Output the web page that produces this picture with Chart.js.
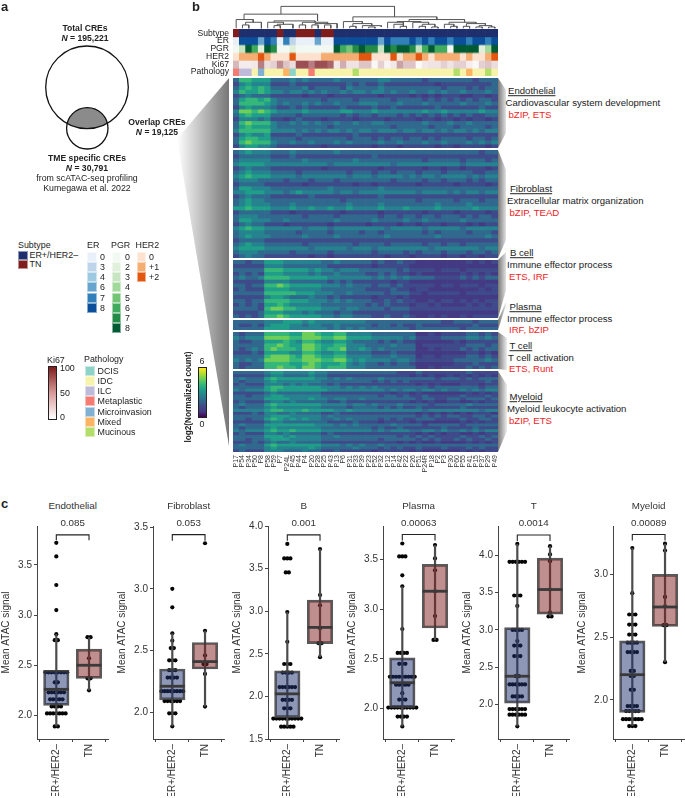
<!DOCTYPE html>
<html>
<head>
<meta charset="utf-8">
<title>Overlap CREs</title>
<script src="https://cdn.jsdelivr.net/npm/chart.js@4"></script>
<style>
  html, body { margin: 0; padding: 0; background: #fff; }
  #page { position: relative; width: 685px; height: 798px; overflow: hidden; font-family: "Liberation Sans", Arial, sans-serif; color: #222; }
  #page canvas { position: absolute; }
  #page canvas.heat { filter: blur(0.45px); }
  .t { position: absolute; white-space: nowrap; line-height: 1; }
  .sw { position: absolute; box-sizing: border-box; border: 1px solid rgba(255,255,255,.5); }
  .wedge { position: absolute; }
</style>
</head>
<body>
<div id="page"></div>
<script>
// ---- panel c values, one list per group
const endoEr = [3.72,3.585,3.30,3.05,2.81,2.75,2.75,2.43,2.43,2.43,2.43,2.43,2.43,2.43,2.43,2.33,2.33,2.23,2.23,2.23,2.23,2.23,2.23,2.16,2.16,2.16,2.16,2.16,2.09,2.09,2.09,2.09,2.02,2.02,2.02,2.02,2.02,2.02,2.02,1.89,1.89]
const endoTn = [2.78,2.78,2.57,2.37,2.37,2.25]
const endoErBox = [1.89,2.10,2.26,2.45,2.81]
const endoTnBox = [2.25,2.37,2.50,2.66,2.78]

const fibroEr = [3.00,2.85,2.64,2.58,2.52,2.52,2.42,2.42,2.42,2.34,2.34,2.34,2.28,2.28,2.28,2.28,2.17,2.17,2.17,2.17,2.17,2.17,2.17,2.17,2.09,2.09,2.09,2.09,2.09,2.09,1.99,1.99,1.99,1.885]
const fibroTn = [3.37,2.66,2.46,2.39,2.39,2.31,2.045]
const fibroErBox = [1.885,2.10,2.21,2.35,2.64]
const fibroTnBox = [2.045,2.35,2.41,2.565,2.66]

const bEr = [3.79,3.62,3.62,3.62,3.455,3.455,2.99,2.64,2.38,2.38,2.38,2.28,2.28,2.28,2.28,2.11,2.11,2.11,2.11,2.11,2.11,1.96,1.96,1.96,1.96,1.86,1.86,1.86,1.74,1.74,1.74,1.74,1.74,1.74,1.74,1.74,1.74,1.74,1.645,1.645,1.645,1.645,1.645]
const bTn = [3.73,3.19,3.07,2.80,2.625,2.625,2.46]
const bErBox = [1.645,1.75,2.03,2.30,2.99]
const bTnBox = [2.46,2.62,2.81,3.13,3.73]

const plasmaEr = [3.66,3.53,3.53,3.53,3.34,3.23,2.80,2.56,2.56,2.56,2.56,2.45,2.45,2.45,2.32,2.32,2.32,2.32,2.32,2.32,2.32,2.32,2.32,2.24,2.24,2.24,2.24,2.24,2.155,2.09,2.09,2.09,2.01,2.01,2.01,2.01,2.01,2.01,2.01,2.01,2.01,2.01,1.92,1.92,1.92,1.92,1.82]
const plasmaTn = [3.645,3.51,3.39,3.18,2.93,2.69,2.69]
const plasmaErBox = [1.82,2.01,2.26,2.51,3.23]
const plasmaTnBox = [2.69,2.81,3.18,3.45,3.645]

const tEr = [4.15,3.91,3.91,3.91,3.91,3.91,3.91,3.46,3.46,3.46,3.32,3.00,3.00,3.00,3.00,2.85,2.79,2.79,2.79,2.65,2.65,2.65,2.38,2.38,2.27,2.27,2.27,2.27,2.27,2.27,2.11,2.11,2.11,2.11,1.94,1.94,1.94,1.94,1.94,1.94,1.865,1.865,1.865,1.865,1.865,1.865,1.71]
const tTn = [4.12,4.01,3.92,3.54,3.235,3.18,3.18]
const tErBox = [1.71,2.02,2.38,3.03,4.15]
const tTnBox = [3.18,3.21,3.54,3.96,4.12]

const myeEr = [3.21,2.85,2.68,2.68,2.68,2.60,2.60,2.60,2.52,2.52,2.52,2.455,2.455,2.455,2.455,2.38,2.38,2.38,2.38,2.23,2.23,2.19,2.19,2.08,2.08,1.95,1.95,1.95,1.95,1.91,1.91,1.91,1.91,1.91,1.845,1.845,1.845,1.845,1.845,1.845,1.845,1.79,1.79,1.79]
const myeTn = [3.245,3.19,2.82,2.745,2.595,2.595,2.30]
const myeErBox = [1.79,1.90,2.20,2.47,3.21]
const myeTnBox = [2.30,2.585,2.74,3.00,3.245]

const groupLabels = ['ER+/HER2–', 'TN']

// ---- panel b annotation tracks
const patients = ['P17','P54','P34','P50','P8','P58','P59','P7','P24L','P45','P44','P4','P20','P28','P25','P43','P13','P6','P31','P33','P39','P23','P52','P32','P12','P14','P42','P22','P26','P51','P24R','P18','P2','P3','P30','P60','P55','P41','P15','P37','P29','P49']
const subtype = ['TN','ER','ER','ER','ER','ER','ER','TN','ER','ER','TN','TN','TN','ER','TN','TN','ER','ER','ER','ER','ER','ER','ER','ER','ER','ER','ER','ER','ER','ER','ER','ER','ER','ER','ER','ER','ER','ER','ER','ER','ER','ER']
const erScore = [0,8,8,8,6,8,7,0,7,3,0,0,0,6,0,0,8,8,8,8,8,8,8,6,8,7,7,7,8,7,8,7,8,8,7,8,8,7,8,8,7,8]
const pgrScore = [0,3,8,6,2,8,7,0,0,2,0,0,0,0,0,0,8,6,5,7,8,7,7,3,8,7,8,8,7,3,6,8,6,6,0,8,8,8,8,2,4,8]
const her2Score = [0,1,1,1,2,1,0,0,0,2,0,0,0,0,1,1,1,1,1,1,2,2,0,0,0,2,0,1,1,2,1,0,1,1,1,1,0,1,0,0,1,2]
const ki67 = [30,8,8,10,55,15,20,50,25,15,75,75,55,75,75,65,10,35,12,12,25,25,3,20,5,10,40,25,25,2,10,12,12,20,12,20,20,8,3,20,25,15]
const pathology = ['Metaplastic','ILC','ILC','IDC','Microinvasion','IDC','IDC','IDC','Mixed','DCIS','IDC','IDC','Metaplastic','IDC','IDC','IDC','IDC','IDC','IDC','Mucinous','IDC','IDC','IDC','IDC','IDC','IDC','IDC','IDC','IDC','IDC','IDC','IDC','IDC','IDC','IDC','Mucinous','IDC','Mixed','IDC','IDC','Mucinous','IDC']

const trackNames = ['Subtype','ER','PGR','HER2','Ki67','Pathology']
const subtypeColors = { ER: '#1f2f6e', TN: '#7f1d1d' }
const erColors = { 0: '#eaf0f9', 3: '#bdd4e9', 4: '#9ecae1', 6: '#67a5cf', 7: '#3180ba', 8: '#0b4f9b' }
const pgrColors = { 0: '#f2f8f2', 2: '#e0f0db', 3: '#c7e5c0', 4: '#a1d99b', 5: '#74c476', 6: '#41ab5d', 7: '#238b45', 8: '#005a32' }
const her2Colors = { 0: '#fde3cf', 1: '#f6ad72', 2: '#e2560f' }
const pathologyColors = { DCIS: '#8dd3c7', IDC: '#f7f3ab', ILC: '#bebada', Metaplastic: '#f47c72', Microinvasion: '#80b1d3', Mixed: '#fdb462', Mucinous: '#b3de69' }
const viridis = ['#440154','#443983','#3e4a89','#31688e','#26828e','#1f9e89','#35b779','#6ece58','#b5de2b','#fde725']

// ---- dendrogram merges: left col, right col, height, left child height, right child height
const dendroMerges = [
  [7.6,25.6,13,36,44],[1.75,13.4,36,52,56],[19,32.3,44,58,52],
  [0.5,3.2,52,78,60],[2,4.5,60,68,78],[1.5,2.5,68,78,78],
  [6.5,13,56,60,60],[5.5,8,60,78,66],[7,9.5,66,70,78],[6.5,7.5,70,78,78],
  [11,15,60,68,64],[10.5,11.5,68,78,78],[13,16.5,64,68,78],[12.5,13.5,68,78,78],[14.5,15.5,68,78,78],
  [17.5,20.5,58,78,64],[19,22,64,72,70],[18.5,19.5,72,78,78],[20.5,23.5,70,78,74],[21.5,22.5,74,78,78],
  [27.9,36.7,52,58,60],[26,29.75,58,60,60],[24.5,27,60,78,66],[25.5,27,66,78,72],[26.5,27.5,72,78,78],
  [28.5,31,60,78,66],[30,32,66,72,74],[29.5,30.5,72,78,78],[31.5,32.5,74,78,78],
  [34.25,38.5,60,66,64],[33.5,35,66,78,72],[34.5,35.5,72,78,78],[37,40,64,72,70],[36.5,37.5,72,78,78],[39,41,70,74,74],[38.5,39.5,74,78,78],[40.5,41.5,74,78,78]
]

// ---- heatmap, one string per row, digit = colour step of log2(normalized count) 0-6, grouped by 7 columns
const endoRows = [
'3665553 3343433 3343333 3344333 3323333 3332333',
'2454442 2232222 2222323 2232222 2222122 2222223',
'3565653 3333423 3332433 3343333 3333323 3323233',
'4655654 4344343 4334344 3443433 4334343 3433343',
'2343332 2222122 2122222 2212222 1212122 2112212',
'3566564 3333333 2333323 3333233 3323232 3232332',
'3666654 3433434 3343334 4433343 3343333 3433343',
'2454443 2232322 2223222 2322322 2222322 2222322',
'4776765 4444544 4445544 4544444 4454454 4444544',
'3565553 3332333 3332323 3233323 2323232 3232233',
'2444342 2123222 1222212 2221222 2122122 1212212',
'3676664 3343434 3343343 3443333 3343334 3343333',
'3565554 3333333 3233333 3333233 3332333 2333323',
'4666664 4443434 3443434 4344434 4344343 4434344',
'2454452 2223222 2222232 2222222 2222222 2222222',
'3566553 3332333 3333233 3232332 3323233 3323323',
'3676664 3343343 3343433 3343343 3343343 3343434',
'2455443 2222222 1222222 2122212 2222122 1222212']
const fibroRows = [
'3454443 3343333 3343333 3333333 3333333 3333233',
'2333332 2232222 2222222 2322222 2222222 2222222',
'3444443 3333433 3333343 3333333 3323333 3233323',
'4555544 4444444 4344444 4444344 4444444 4344444',
'2343332 2222222 1222222 2212222 2212212 2122212',
'3454443 3332333 3333233 3233233 3233323 3332233',
'4565554 4443444 4444344 4344443 4344344 4434344',
'3444333 3233323 3323333 3333233 3323323 3323233',
'2333322 2222122 2222212 2122222 2122222 1222212',
'3554443 3333333 3433333 3343333 3333333 3333333',
'4455544 4345444 4434434 4444444 4344443 4344344',
'2343332 2222232 2222222 2232222 2222222 2222222',
'3454433 3333333 3332333 3333333 3233333 2333233',
'3454443 3343333 3333433 3343333 3333433 3343333',
'5565554 4454454 4544544 4454445 4444544 4445444',
'2333332 2212222 2221222 2212222 2212222 1222212',
'3444333 3333233 3323333 3323323 3233233 3232332',
'3554443 3433333 3343333 3433334 3343333 3433333',
'2343322 2122222 2122222 1222212 2122212 2212122',
'4565544 4444344 4344444 4443444 4434444 4344444',
'3444433 3332333 3233332 3323333 3323233 3323332',
'3454443 3333433 3343333 3334333 3333433 3333343',
'2333322 2222222 2222222 2222222 2222222 2222222',
'3454433 3333233 3333323 3332333 3323323 3233333',
'4555544 4444434 4444344 4344444 4443444 4444344',
'3444333 3323333 3233333 3233332 3233323 3323323',
'2343322 2222212 2122222 2221222 1222212 2122122']
const bCellRows = [
'3323355 5444444 3343333 3232232 2111111 1121212',
'2222244 4333333 3222222 2122222 1111111 1111111',
'3333366 6555545 4434443 3333323 2222122 2122222',
'2323255 5444434 3343333 2232322 1211111 1212121',
'3433466 6655555 5444444 4343434 3333222 2323233',
'2222244 4433333 3232322 2222122 1111111 1111111',
'3323366 7655555 4443433 3233232 2222122 1222122',
'2322255 5544444 3333333 2222322 1221111 1111212',
'3333366 6665554 4433433 3332333 2212222 2122222',
'2222245 5433343 3232222 2122212 1111111 1111111',
'3323366 6655544 4343433 3223232 2112122 1212122',
'2323255 6544444 3333333 2323222 1221211 1121212',
'3333267 7665555 4443443 3332333 2222222 2222222',
'2222355 5444343 3323322 2222222 1111111 1111111',
'3232366 7655555 4434433 3223223 2112121 1212222']
const plasmaRows = [
'3333344 4555454 4444444 3333333 3333322 3332333',
'3223245 5544344 3343333 3233232 2322222 2223222',
'3333355 5544444 4343434 3333333 2333333 3233333']
const tCellRows = [
'3233366 6655776 5566444 4333333 3112122 2233232',
'4344477 7766777 6677555 5444443 4222233 3344343',
'3223355 5654665 4455433 3323232 2111111 2122222',
'3333366 7655776 5566444 3333433 3122222 2233323',
'3234367 6665776 5667445 4343333 3112122 2323233',
'2223255 5544665 4455333 3222322 2111111 1122121',
'3333367 7765776 5566444 4333433 3122122 2233232',
'4343477 7766777 6677545 4444344 3222222 3333343',
'3223366 6655676 5556434 3323233 2111111 2223222',
'3233366 7665776 5666444 3333333 3112122 2232323']
const myeloidRows = [
'3333345 5444454 4333333 3333322 2322222 2232222',
'2222234 4333343 3222222 2222222 1212112 1212121',
'3433356 5555554 4343433 3343333 3333233 3232333',
'3233345 4444444 3333333 3232323 2222222 2222232',
'2322244 4343433 3232222 2222222 2121211 1222122',
'3333356 6555555 4443434 3433333 3332333 3333233',
'4344456 5555555 5444444 4443434 4344343 3434344',
'2222234 3333333 2222222 2222122 1211111 1121212',
'3323345 5444444 3333333 3323323 2232222 2322232',
'3333355 5544454 4344334 3333333 3233223 3233323',
'2322234 4343333 3223222 2222222 1212112 2112122',
'3433356 5555555 4444344 3433343 3332333 3343333',
'3233345 4444444 3333233 3323232 2322222 2322222',
'4444456 6555655 5544544 4444444 4434444 4444344',
'2223244 3343333 2232222 2222222 2121212 1212221',
'3333345 5544444 3433333 3333333 3232323 3223323',
'3323356 5454544 3343433 3323232 2333222 2322332',
'2222234 4333333 3222232 2212222 1211111 1212122',
'3433355 5555554 4434343 3333433 3323333 3233333',
'3233345 4444444 3333333 3232232 2222232 2223222',
'4344456 5565555 4444444 4343444 3344343 3434344',
'2322244 3433333 2322222 2222222 2121212 2112122',
'3333355 5454444 3343333 3333323 2323222 2322323',
'3323345 5544444 3333333 3323333 3232322 3232232',
'2223234 3343333 2222222 2222212 1211211 1121212',
'3433356 5555555 4443434 3343333 3333333 3333333',
'3333345 4444454 3333343 3323232 2322232 2232322',
'2322244 4333433 2232222 2122222 1211111 1212122']

const vennPoints = [{ x: 87, y: 87.3 }, { x: 87.3, y: 128.3 }]
const vennRadii = [41.3, 20.7]

const page = document.getElementById('page')
Chart.defaults.font.family = '"Liberation Sans", Arial, sans-serif'
Chart.defaults.animation = false
Chart.defaults.layout.autoPadding = false
Chart.defaults.plugins.legend.display = false
Chart.defaults.plugins.tooltip.enabled = false

function makeCanvas(x, y, w, h) {
  const c = document.createElement('canvas')
  c.width = w; c.height = h
  c.style.left = x + 'px'; c.style.top = y + 'px'
  c.style.width = w + 'px'; c.style.height = h + 'px'
  page.appendChild(c)
  return c
}

function text(str, x, y, o = {}) {
  const d = document.createElement('div')
  d.className = 't'
  d.innerHTML = str
  d.style.left = x + 'px'; d.style.top = y + 'px'
  d.style.fontSize = (o.size || 9.6) + 'px'
  if (o.bold) d.style.fontWeight = 'bold'
  if (o.color) d.style.color = o.color
  if (o.under) d.style.textDecoration = 'underline'
  const ax = o.align === 'center' ? '-50%' : o.align === 'right' ? '-100%' : '0'
  d.style.transform = `translate(${ax},-50%)` + (o.rotate ? ` rotate(${o.rotate}deg)` : '')
  page.appendChild(d)
}

function swatch(color, x, y, w, h) {
  const d = document.createElement('div')
  d.className = 'sw'
  d.style.cssText = `left:${x}px;top:${y}px;width:${w}px;height:${h}px;background:${color}`
  page.appendChild(d)
}

function wedge(x, y, w, h, points, grad) {
  const d = document.createElement('div')
  d.className = 'wedge'
  d.style.cssText = `left:${x}px;top:${y}px;width:${w}px;height:${h}px;background:${grad};clip-path:polygon(${points})`
  page.appendChild(d)
}

// ---- grey connectors
wedge(177, 78, 52, 374, '0 61px, 52px 0, 52px 368px', 'linear-gradient(to right,#fff,#777)')
const wedgeGrad = 'linear-gradient(to right,#777,#eee)'
wedge(498, 78, 9, 70, '0 0, 8px 12px, 8px 55px, 0 70px', wedgeGrad)
wedge(498, 150, 9, 108, '0 0, 8px 20px, 8px 90px, 0 108px', wedgeGrad)
wedge(498, 252, 9, 66, '0 8px, 8px 0, 8px 38px, 0 66px', wedgeGrad)
wedge(498, 302, 9, 28, '0 18px, 8px 0, 8px 3px, 0 28px', wedgeGrad)
wedge(498, 332, 9, 38, '0 0, 9px 6px, 9px 38px, 0 37px', wedgeGrad)
wedge(498, 371, 9, 81, '0 0, 9px 14px, 9px 60px, 0 81px', wedgeGrad)

// ---- panel a
const lensPlugin = {
  id: 'lens',
  beforeDatasetsDraw(chart) {
    const { ctx, scales: { x, y } } = chart
    const [a, b] = vennPoints
    ctx.save()
    ctx.beginPath()
    ctx.arc(x.getPixelForValue(a.x), y.getPixelForValue(a.y), vennRadii[0], 0, Math.PI * 2)
    ctx.clip()
    ctx.beginPath()
    ctx.arc(x.getPixelForValue(b.x), y.getPixelForValue(b.y), vennRadii[1], 0, Math.PI * 2)
    ctx.fillStyle = '#8b8b8b'
    ctx.fill()
    ctx.restore()
  }
}
new Chart(makeCanvas(0, 0, 176, 176), {
  type: 'scatter',
  plugins: [lensPlugin],
  data: { datasets: [{ data: vennPoints, pointRadius: vennRadii, pointBackgroundColor: 'transparent', pointBorderColor: '#111', pointBorderWidth: 1.3, clip: false }] },
  options: {
    responsive: false,
    layout: { padding: 0 },
    scales: {
      x: { display: false, min: 0, max: 176 },
      y: { display: false, min: 0, max: 176, reverse: true }
    }
  }
})

text('a', 1, 6, { size: 13, bold: true })
text('b', 192, 6, { size: 13, bold: true })
text('c', 1, 503, { size: 13, bold: true })

text('Total CREs', 85, 28, { size: 8.6, bold: true, align: 'center' })
text('<i>N</i> = 195,221', 85, 38, { size: 8.6, bold: true, align: 'center' })
text('Overlap CREs', 157, 122, { size: 8.6, bold: true, align: 'center' })
text('<i>N</i> = 19,125', 157, 132, { size: 8.6, bold: true, align: 'center' })
text('TME specific CREs', 87, 157.5, { size: 8.6, bold: true, align: 'center' })
text('<i>N</i> = 30,791', 87, 168, { size: 8.6, bold: true, align: 'center' })
text('from scATAC-seq profiling', 87, 178, { size: 8.8, align: 'center' })
text('Kumegawa et al. 2022', 87, 188, { size: 8.8, align: 'center' })

// ---- legends
const legendSize = 8.9
text('Subtype', 18, 244.5, { size: legendSize })
swatch(subtypeColors.ER, 18, 251, 9.5, 9)
swatch(subtypeColors.TN, 18, 260, 9.5, 9)
text('ER+/HER2–', 29.5, 255, { size: legendSize })
text('TN', 29.5, 264, { size: legendSize })

text('ER', 87, 244.5, { size: legendSize })
Object.keys(erColors).forEach((k, i) => {
  swatch(erColors[k], 87, 251.7 + i * 10.25, 9.7, 10)
  text(k, 100, 256.7 + i * 10.25, { size: legendSize })
})
text('PGR', 111, 244.5, { size: legendSize })
Object.keys(pgrColors).forEach((k, i) => {
  swatch(pgrColors[k], 111.5, 251.7 + i * 10.25, 9.7, 10)
  text(k, 125, 256.7 + i * 10.25, { size: legendSize })
})
text('HER2', 135.5, 244.5, { size: legendSize })
Object.keys(her2Colors).forEach((k, i) => {
  swatch(her2Colors[k], 136.5, 251.7 + i * 10.25, 9.7, 10)
  text(k === '0' ? '0' : '+' + k, 149, 256.7 + i * 10.25, { size: legendSize })
})

text('Ki67', 47, 359.5, { size: legendSize })
const kiBar = document.createElement('div')
kiBar.style.cssText = 'position:absolute;box-sizing:border-box;left:47.5px;top:366px;width:9px;height:54px;border:1px solid #222;background:linear-gradient(to top,#fff,#d99a9a 50%,#7f1d1d)'
page.appendChild(kiBar)
text('100', 60, 368, { size: legendSize })
text('50', 60, 393, { size: legendSize })
text('0', 60, 416.5, { size: legendSize })

text('Pathology', 84, 359, { size: legendSize })
Object.keys(pathologyColors).forEach((k, i) => {
  swatch(pathologyColors[k], 85, 365.7 + i * 10.2, 9.7, 10)
  text(k, 97.5, 370.7 + i * 10.2, { size: legendSize })
})

const viriBar = document.createElement('div')
viriBar.style.cssText = `position:absolute;box-sizing:border-box;left:198px;top:367px;width:9px;height:50.5px;border:1px solid #222;background:linear-gradient(to top,${viridis.join(',')})`
page.appendChild(viriBar)
text('6', 202, 360.5, { size: legendSize, align: 'center' })
text('0', 202, 423.5, { size: legendSize, align: 'center' })
text('log2(Normalized count)', 189, 397, { size: 8.2, bold: true, align: 'center', rotate: -90 })

// ---- dendrogram
new Chart(makeCanvas(233, 2, 265, 27), {
  type: 'scatter',
  data: {
    datasets: dendroMerges.map(m => ({
      data: [{ x: m[0], y: m[3] }, { x: m[0], y: m[2] }, { x: m[1], y: m[2] }, { x: m[1], y: m[4] }],
      showLine: true, pointRadius: 0, borderColor: '#555', borderWidth: 1
    }))
  },
  options: {
    responsive: false,
    layout: { padding: 0 },
    scales: {
      x: { display: false, min: 0, max: patients.length },
      y: { display: false, min: 0, max: 80, reverse: true }
    }
  }
})

// ---- annotation tracks
function kiColor(v) {
  const f = v / 100
  const mix = (a, b) => Math.round(a + (b - a) * f)
  return `rgb(${mix(255, 122)},${mix(255, 20)},${mix(255, 28)})`
}
const trackColors = [
  subtype.map(v => subtypeColors[v]),
  erScore.map(v => erColors[v]),
  pgrScore.map(v => pgrColors[v]),
  her2Score.map(v => her2Colors[v]),
  ki67.map(kiColor),
  pathology.map(v => pathologyColors[v])
]
new Chart(makeCanvas(233, 29, 265, 46.5), {
  type: 'bar',
  data: {
    labels: patients,
    datasets: trackNames.map((n, i) => ({
      label: n, data: patients.map(() => 1), backgroundColor: trackColors[i],
      barPercentage: 1, categoryPercentage: 1, borderWidth: 0
    }))
  },
  options: {
    responsive: false,
    layout: { padding: 0 },
    scales: {
      x: { display: false, stacked: true },
      y: { display: false, stacked: true, reverse: true, min: 0, max: trackNames.length }
    }
  }
})
trackNames.forEach((n, i) => text(n, 229, 32.5 + i * 7.75, { size: 8.6, align: 'right' }))

// ---- heatmap modules
const modules = [
  { rows: endoRows, top: 78, bottom: 148 },
  { rows: fibroRows, top: 150, bottom: 258 },
  { rows: bCellRows, top: 260, bottom: 318 },
  { rows: plasmaRows, top: 320, bottom: 330 },
  { rows: tCellRows, top: 332, bottom: 369 },
  { rows: myeloidRows, top: 371, bottom: 452 }
]
modules.forEach((m, mi) => {
  const last = mi === modules.length - 1
  const h = m.bottom - m.top
  const xAxis = {
    display: last, stacked: true,
    border: { display: false }, grid: { display: false, drawTicks: false },
    ticks: { autoSkip: false, minRotation: 90, maxRotation: 90, padding: 3, color: '#333', font: { size: 7 } }
  }
  if (last) xAxis.afterFit = s => { s.height = 26; s.paddingLeft = 0; s.paddingRight = 0 }
  const cv = makeCanvas(233, m.top, 265, h + (last ? 26 : 0))
  cv.className = 'heat'
  new Chart(cv, {
    type: 'bar',
    data: {
      labels: patients,
      datasets: m.rows.map(r => {
        const cells = r.replace(/ /g, '')
        return {
          data: patients.map(() => 1),
          backgroundColor: patients.map((p, c) => viridis[+cells[c]]),
          barPercentage: 1, categoryPercentage: 1, borderWidth: 0
        }
      })
    },
    options: {
      responsive: false,
      layout: { padding: 0 },
      scales: {
        x: xAxis,
        y: { display: false, stacked: true, reverse: true, min: 0, max: m.rows.length }
      }
    }
  })
})

// ---- module notes
const notes = [
  ['Endothelial', 508, 91, 'Cardiovascular system development', 505.5, 103, 'bZIP, ETS', 508.5, 115],
  ['Fibroblast', 510, 189, 'Extracellular matrix organization', 507, 201, 'bZIP, TEAD', 509.5, 212.5],
  ['B cell', 510, 253, 'Immune effector process', 507, 265, 'ETS, IRF', 509, 277],
  ['Plasma', 509.5, 307, 'Immune effector process', 507, 319, 'IRF, bZIP', 509, 330],
  ['T cell', 509.5, 346, 'T cell activation', 508, 358, 'ETS, Runt', 509, 369],
  ['Myeloid', 509.5, 397, 'Myeloid leukocyte activation', 507, 409, 'bZIP, ETS', 509, 421]
]
notes.forEach(n => {
  text(n[0], n[1], n[2], { under: true })
  text(n[3], n[4], n[5])
  text(n[6], n[7], n[8], { color: '#ee1c25' })
})

// ---- panel c boxplots
const panels = [
  { title: 'Endothelial', p: '0.085', er: endoEr, tn: endoTn, erBox: endoErBox, tnBox: endoTnBox, axisX: 37, yMin: 1.765, yMax: 3.888, bracket: [3.80, 3.745] },
  { title: 'Fibroblast', p: '0.053', er: fibroEr, tn: fibroTn, erBox: fibroErBox, tnBox: fibroTnBox, axisX: 153, yMin: 1.782, yMax: 3.51, bracket: [3.44, 3.39] },
  { title: 'B', p: '0.001', er: bEr, tn: bTn, erBox: bErBox, tnBox: bTnBox, axisX: 268, yMin: 1.5, yMax: 4.0, bracket: [3.896, 3.826] },
  { title: 'Plasma', p: '0.00063', er: plasmaEr, tn: plasmaTn, erBox: plasmaErBox, tnBox: plasmaTnBox, axisX: 383, yMin: 1.694, yMax: 3.836, bracket: [3.75, 3.69] },
  { title: 'T', p: '0.0014', er: tEr, tn: tTn, erBox: tErBox, tnBox: tTnBox, axisX: 498, yMin: 1.54, yMax: 4.39, bracket: [4.27, 4.19] },
  { title: 'Myeloid', p: '0.00089', er: myeEr, tn: myeTn, erBox: myeErBox, tnBox: myeTnBox, axisX: 613, yMin: 1.687, yMax: 3.386, bracket: [3.318, 3.27] }
]

// equal values sit side by side
function swarm(vals, center) {
  const counts = {}
  vals.forEach(v => { counts[v] = (counts[v] || 0) + 1 })
  const seen = {}
  return vals.map(v => {
    const i = seen[v] = (seen[v] || 0) + 1
    return { x: center + (i - 1 - (counts[v] - 1) / 2) * 0.095, y: v }
  })
}

function lineSet(data, color, width, order) {
  return { type: 'scatter', data, showLine: true, pointRadius: 0, borderColor: color, borderWidth: width, order, clip: false }
}

panels.forEach(p => {
  const xLeft = p.axisX - 37
  const plotW = 71
  const datasets = []
  ;[[p.er, p.erBox, 0, 'rgba(31,47,110,.5)'], [p.tn, p.tnBox, 1, 'rgba(127,29,29,.5)']].forEach(g => {
    const [vals, box, cx, fill] = g
    datasets.push({ type: 'scatter', data: swarm(vals, cx), pointRadius: 2.1, pointBackgroundColor: '#050505', pointBorderWidth: 0, order: 4, clip: false })
    datasets.push(lineSet([{ x: cx, y: box[0] }, { x: cx, y: box[4] }], '#4c4c4c', 2.2, 3))
    datasets.push({ type: 'bar', data: [{ x: cx, y: [box[1], box[3]] }], backgroundColor: fill, borderColor: 'rgba(60,60,60,.85)', borderWidth: 2, borderSkipped: false, barThickness: 25.5, grouped: false, order: 2 })
    datasets.push(lineSet([{ x: cx - 0.38, y: box[2] }, { x: cx + 0.38, y: box[2] }], '#3a3a3a', 2.8, 1))
  })
  datasets.push(lineSet([{ x: 0, y: p.bracket[1] }, { x: 0, y: p.bracket[0] }, { x: 1, y: p.bracket[0] }, { x: 1, y: p.bracket[1] }], '#222', 1.1, 0))

  new Chart(makeCanvas(xLeft, 518, 37 + plotW + 3, 278), {
    type: 'bar',
    data: { datasets },
    options: {
      responsive: false,
      grouped: false,
      layout: { padding: { top: 4, right: 3, left: 0, bottom: 0 } },
      scales: {
        x: {
          type: 'linear', offset: false, min: -0.59, max: 1.58,
          grid: { drawOnChartArea: false, tickLength: 3, tickColor: '#444' },
          border: { color: '#444', width: 1 },
          afterBuildTicks(s) { s.ticks = [{ value: 0 }, { value: 1 }] },
          afterFit(s) { s.height = 57 },
          ticks: {
            autoSkip: false, minRotation: 90, maxRotation: 90, padding: 2, color: '#333', font: { size: 10 },
            callback: v => groupLabels[v]
          }
        },
        y: {
          min: p.yMin, max: p.yMax,
          grid: { drawOnChartArea: false, tickLength: 3, tickColor: '#444' },
          border: { color: '#444', width: 1 },
          afterFit(s) { s.width = 37 },
          title: { display: true, text: 'Mean ATAC signal', color: '#333', font: { size: 10 }, padding: 0 },
          ticks: { stepSize: 0.5, includeBounds: false, padding: 2, color: '#333', font: { size: 10 }, callback: v => v.toFixed(1) }
        }
      }
    }
  })
  const mid = p.axisX + (0.5 + 0.59) * plotW / 2.17
  text(p.title, mid, 506, { size: 9.8, align: 'center', color: '#333' })
  text(p.p, mid, 522.5, { size: 9.8, align: 'center', color: '#333' })
})
</script>
</body>
</html>
